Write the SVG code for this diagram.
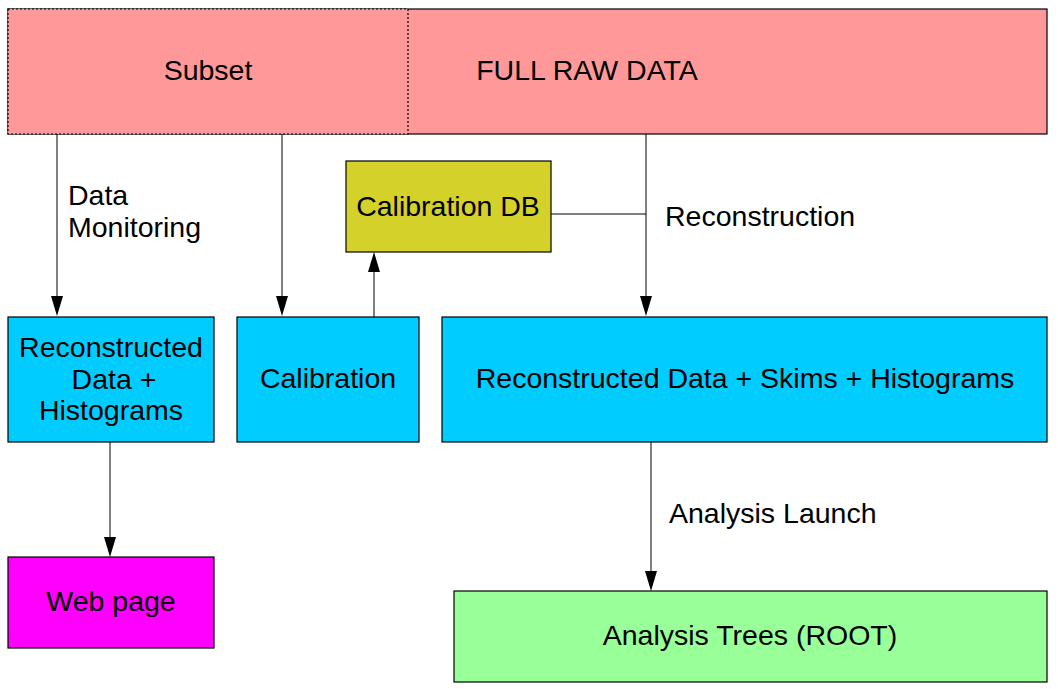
<svg xmlns="http://www.w3.org/2000/svg" width="1058" height="689" viewBox="0 0 1058 689">
<style>
text{font-family:"Liberation Sans",Arial,sans-serif;font-size:28.5px;fill:#000}
.n{stroke:#000;stroke-width:1.2}
.c{stroke:#000;stroke-width:1;fill:none}
.m{text-anchor:middle}
</style>
<g id="full-raw-data">
<rect x="8" y="9" width="1039" height="125" fill="#ff9999" class="n"/>
<text x="587" y="80" class="m">FULL RAW DATA</text>
</g>
<g id="subset">
<rect x="8" y="9" width="400" height="125" fill="#ff9999" stroke="#000" stroke-width="1.2" stroke-dasharray="2,2"/>
<text x="208" y="80" class="m">Subset</text>
</g>
<g id="calibration-db">
<rect x="346" y="161" width="205" height="91" fill="#d4d22a" class="n"/>
<text x="448" y="216" class="m">Calibration DB</text>
</g>
<g id="reco-hist">
<rect x="8" y="317" width="206" height="125" fill="#00ccff" class="n"/>
<text x="111" y="357" class="m">Reconstructed</text>
<text x="114" y="389" class="m">Data +</text>
<text x="111" y="420" class="m">Histograms</text>
</g>
<g id="calibration">
<rect x="237" y="317" width="182" height="125" fill="#00ccff" class="n"/>
<text x="328" y="388" class="m">Calibration</text>
</g>
<g id="reco-full">
<rect x="442" y="317" width="605" height="125" fill="#00ccff" class="n"/>
<text x="745" y="388" class="m">Reconstructed Data + Skims + Histograms</text>
</g>
<g id="web-page">
<rect x="8" y="557" width="206" height="91" fill="#ff00ff" class="n"/>
<text x="111" y="611" class="m">Web page</text>
</g>
<g id="analysis-trees">
<rect x="454" y="591" width="593" height="91" fill="#99ff99" class="n"/>
<text x="750" y="645" class="m">Analysis Trees (ROOT)</text>
</g>
<g id="connectors">
<path d="M57,134 V296" class="c"/><path d="M51,296 L63,296 L57,316 Z"/>
<path d="M282,134 V296" class="c"/><path d="M276,296 L288,296 L282,316 Z"/>
<path d="M646,134 V296" class="c"/><path d="M640,296 L652,296 L646,316 Z"/>
<path d="M551,214 H646" class="c"/>
<path d="M374,317 V272" class="c"/><path d="M368,272 L380,272 L374,252 Z"/>
<path d="M110,442 V537" class="c"/><path d="M104,537 L116,537 L110,557 Z"/>
<path d="M651,442 V571" class="c"/><path d="M645,571 L657,571 L651,591 Z"/>
</g>
<g id="labels">
<text x="68" y="205">Data</text>
<text x="68" y="237">Monitoring</text>
<text x="665" y="226">Reconstruction</text>
<text x="669" y="523">Analysis Launch</text>
</g>
</svg>
